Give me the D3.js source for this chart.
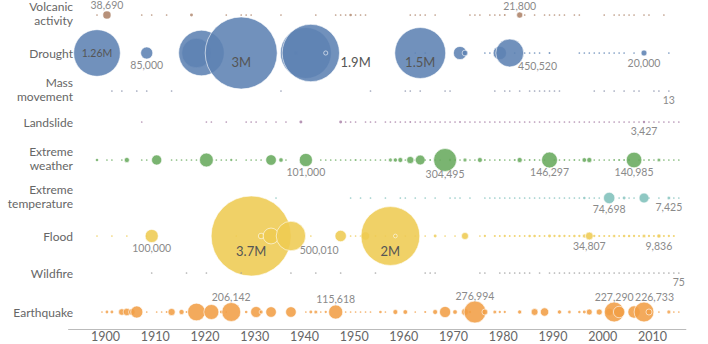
<!DOCTYPE html>
<html>
<head>
<meta charset="utf-8">
<script src="https://cdn.jsdelivr.net/npm/d3@7"></script>
<style>
  body { margin: 0; background: #fff; }
  svg { display: block; font-family: Lato, "Open Sans", sans-serif; }
</style>
</head>
<body>
<svg id="chart"></svg>
<script>
// deaths per year by disaster type, [year, deaths]
const categories = ["Volcanic activity", "Drought", "Mass movement", "Landslide", "Extreme weather",
  "Extreme temperature", "Flood", "Wildfire", "Earthquake"];
const rowLabels = [["Volcanic", "activity"], ["Drought"], ["Mass", "movement"], ["Landslide"],
  ["Extreme", "weather"], ["Extreme", "temperature"], ["Flood"], ["Wildfire"], ["Earthquake"]];
const tickYears = [1900, 1910, 1920, 1930, 1940, 1950, 1960, 1970, 1980, 1990, 2000, 2010];

const volcanic = [[1900, 30], [1902, 38690], [1909, 100], [1911, 1335], [1914, 100], [1919, 5110],
  [1926, 200], [1929, 1500], [1930, 1400], [1931, 1400], [1937, 500], [1944, 100], [1948, 50],
  [1949, 200], [1950, 150], [1951, 4000], [1952, 100], [1953, 200], [1954, 100], [1963, 1600],
  [1964, 100], [1965, 300], [1966, 1000], [1968, 100], [1975, 50], [1976, 50], [1977, 100],
  [1979, 200], [1980, 100], [1981, 250], [1982, 2000], [1985, 21800], [1986, 1746], [1988, 50],
  [1990, 50], [1991, 900], [1992, 50], [1993, 100], [1994, 100], [1996, 50], [1997, 60], [2002, 200],
  [2004, 10], [2005, 10], [2006, 10], [2007, 10], [2008, 20], [2010, 320], [2011, 10], [2014, 60]];

const drought = [[1900, 1260000], [1910, 85000], [1920, 500000], [1921, 1200000], [1929, 3000000],
  [1940, 10000], [1942, 1500000], [1943, 1900000], [1946, 10000], [1964, 500], [1965, 1500000],
  [1966, 500], [1973, 100000], [1974, 19000], [1978, 100], [1979, 150], [1981, 103000],
  [1983, 450520], [1984, 300], [1986, 1000], [1987, 1300], [1988, 1000], [1989, 800], [1991, 2000],
  [1997, 100], [1998, 100], [1999, 150], [2000, 100], [2001, 200], [2002, 100], [2003, 150],
  [2004, 100], [2005, 100], [2006, 150], [2008, 50], [2010, 20000], [2015, 50]];

const massMovement = [[1903, 50], [1905, 30], [1908, 20], [1910, 50], [1915, 20], [1937, 20],
  [1955, 30], [1962, 20], [1963, 20], [1965, 30], [1970, 40], [1971, 30], [1980, 20], [1982, 20],
  [1983, 30], [1985, 20], [1987, 30], [1988, 20], [1989, 20], [1990, 20], [1991, 30], [1992, 20],
  [1993, 20], [2000, 20], [2002, 20], [2004, 20], [2006, 20], [2008, 20], [2009, 20], [2012, 20],
  [2013, 20], [2015, 13]];

const landslide = [[1909, 100], [1922, 150], [1923, 100], [1926, 100], [1930, 100], [1931, 100],
  [1932, 100], [1934, 100], [1936, 100], [1938, 100], [1941, 5000], [1949, 5000], [1950, 100],
  [1951, 100], [1952, 100], [1954, 100], [1955, 100], [1956, 100], [1958, 200], [1959, 150],
  [1960, 300], [1961, 200], [1962, 400], [1963, 2000], [1964, 300], [1965, 200], [1966, 500],
  [1967, 300], [1968, 200], [1969, 400], [1970, 300], [1971, 500], [1972, 300], [1973, 2000],
  [1974, 400], [1975, 300], [1976, 200], [1977, 300], [1978, 400], [1979, 500], [1980, 300],
  [1981, 600], [1982, 400], [1983, 500], [1984, 300], [1985, 400], [1986, 300], [1987, 800],
  [1988, 400], [1989, 500], [1990, 300], [1991, 400], [1992, 300], [1993, 500], [1994, 400],
  [1995, 600], [1996, 300], [1997, 400], [1998, 700], [1999, 500], [2000, 400], [2001, 600],
  [2002, 300], [2003, 400], [2004, 300], [2005, 600], [2006, 1500], [2007, 300], [2008, 400],
  [2009, 500], [2010, 3427], [2011, 300], [2012, 400], [2013, 500], [2014, 600], [2015, 400],
  [2016, 300], [2017, 500]];

const extremeWeather = [[1900, 4000], [1902, 800], [1903, 800], [1905, 800], [1906, 15000],
  [1909, 800], [1910, 800], [1912, 60000], [1915, 800], [1916, 600], [1917, 1000], [1918, 800],
  [1919, 1200], [1920, 800], [1922, 110000], [1924, 1000], [1925, 800], [1926, 1500], [1927, 3000],
  [1928, 1000], [1930, 800], [1931, 1500], [1932, 1000], [1933, 800], [1935, 65000], [1937, 11000],
  [1938, 800], [1942, 101000], [1945, 900], [1946, 700], [1947, 1200], [1948, 800], [1949, 900],
  [1950, 700], [1951, 800], [1952, 2500], [1953, 900], [1954, 800], [1955, 1000], [1956, 1200],
  [1957, 800], [1958, 1300], [1959, 9000], [1960, 10000], [1961, 14000], [1962, 1000],
  [1963, 30000], [1964, 1200], [1965, 55000], [1966, 1000], [1967, 2000], [1968, 1200], [1969, 900],
  [1970, 304495], [1971, 3000], [1972, 1500], [1973, 1000], [1974, 9000], [1975, 1500], [1976, 1000],
  [1977, 14000], [1978, 2000], [1979, 1500], [1980, 1500], [1981, 1800], [1982, 1600], [1983, 1500],
  [1984, 2500], [1985, 15000], [1986, 1500], [1987, 2000], [1988, 1800], [1989, 1500], [1990, 1200],
  [1991, 146297], [1992, 1000], [1993, 1200], [1994, 1800], [1995, 1600], [1996, 2000], [1997, 1500],
  [1998, 12000], [1999, 15000], [2000, 1500], [2001, 1200], [2002, 1000], [2003, 1200], [2004, 2000],
  [2005, 2500], [2006, 2000], [2007, 3000], [2008, 140985], [2009, 1200], [2010, 1300], [2011, 1800],
  [2012, 1500], [2013, 8000], [2014, 1000], [2015, 1200], [2016, 1400], [2017, 1300]];

const extremeTemperature = [[1936, 300], [1951, 100], [1953, 200], [1955, 100], [1958, 100],
  [1961, 100], [1962, 100], [1964, 200], [1966, 300], [1968, 200], [1971, 100], [1972, 300],
  [1973, 200], [1975, 200], [1978, 300], [1979, 500], [1980, 1300], [1981, 600], [1982, 400],
  [1983, 300], [1984, 500], [1985, 600], [1986, 400], [1987, 1500], [1988, 700], [1989, 500],
  [1990, 800], [1991, 600], [1992, 400], [1993, 500], [1994, 600], [1995, 1700], [1996, 500],
  [1997, 800], [1998, 3500], [1999, 900], [2000, 800], [2001, 600], [2003, 74698], [2005, 800],
  [2006, 5000], [2007, 1000], [2008, 1500], [2010, 56000], [2011, 500], [2013, 1500], [2015, 7425],
  [2016, 300], [2017, 400]];

const flood = [[1900, 500], [1903, 300], [1906, 500], [1910, 1000], [1911, 100000], [1928, 500],
  [1931, 3700000], [1933, 18000], [1935, 145000], [1939, 500010], [1943, 1000], [1949, 75000],
  [1951, 1500], [1952, 1000], [1953, 1500], [1954, 40000], [1956, 2000], [1958, 1000],
  [1959, 2000000], [1960, 8000], [1962, 1500], [1964, 1200], [1966, 1500], [1968, 5000],
  [1970, 1500], [1972, 1500], [1974, 28700], [1977, 1500], [1978, 3000], [1980, 2500], [1981, 2000],
  [1982, 3000], [1983, 2000], [1984, 2500], [1985, 2000], [1986, 1800], [1987, 3500], [1988, 4000],
  [1989, 2500], [1990, 2000], [1991, 5000], [1992, 3000], [1993, 3500], [1994, 3000], [1995, 2500],
  [1996, 3500], [1997, 3000], [1998, 9000], [1999, 34807], [2000, 3000], [2001, 2500], [2002, 2500],
  [2003, 2500], [2004, 6000], [2005, 2000], [2006, 4000], [2007, 3500], [2008, 3000], [2009, 2500],
  [2010, 8000], [2011, 3000], [2012, 2500], [2013, 9836], [2014, 2500], [2015, 3000], [2016, 2500]];

const wildfire = [[1911, 100], [1918, 1000], [1922, 100], [1929, 100], [1939, 100], [1944, 100],
  [1949, 100], [1956, 100], [1966, 100], [1967, 100], [1968, 100], [1977, 100], [1978, 100],
  [1981, 50], [1982, 80], [1983, 300], [1984, 50], [1985, 100], [1986, 60], [1987, 200], [1989, 50],
  [1991, 80], [1992, 50], [1993, 70], [1994, 90], [1995, 60], [1996, 50], [1997, 240], [1998, 100],
  [1999, 70], [2000, 80], [2001, 50], [2002, 60], [2003, 90], [2004, 40], [2005, 50], [2006, 60],
  [2007, 150], [2008, 80], [2009, 190], [2010, 70], [2011, 50], [2012, 60], [2013, 40], [2014, 50],
  [2015, 60], [2016, 50], [2017, 75]];

const earthquake = [[1901, 500], [1902, 4500], [1903, 5000], [1905, 25000], [1906, 32000],
  [1907, 25000], [1908, 85000], [1910, 1500], [1912, 1000], [1913, 1500], [1914, 2000],
  [1915, 30000], [1917, 15000], [1918, 2000], [1920, 180000], [1923, 130000], [1925, 5000],
  [1926, 1500], [1927, 206142], [1930, 4000], [1932, 70000], [1933, 9000], [1935, 65000],
  [1939, 65000], [1942, 1000], [1943, 5000], [1944, 8000], [1945, 1500], [1946, 3000],
  [1948, 115618], [1950, 1500], [1951, 1200], [1952, 1000], [1953, 1500], [1954, 1500], [1955, 1000],
  [1957, 4000], [1958, 1500], [1960, 14000], [1962, 12500], [1964, 1500], [1966, 2500],
  [1968, 14000], [1970, 72000], [1972, 12000], [1974, 28000], [1975, 4000], [1976, 276994],
  [1978, 20000], [1980, 8000], [1981, 3000], [1982, 3000], [1985, 9500], [1988, 27000],
  [1990, 40000], [1993, 10000], [1995, 7000], [1997, 3500], [1998, 5000], [1999, 20000],
  [2001, 21000], [2003, 33000], [2004, 227290], [2005, 76000], [2008, 88000], [2010, 226733],
  [2011, 21000], [2013, 1200], [2015, 9000], [2016, 1300], [2017, 1000]];

const series = [volcanic, drought, massMovement, landslide, extremeWeather, extremeTemperature,
  flood, wildfire, earthquake];

// value annotations: [category, year, text, placement]
const annotations = [
  ["Volcanic activity", 1902, "38,690", "above"],
  ["Volcanic activity", 1985, "21,800", "above"],
  ["Drought", 1900, "1.26M", "center"],
  ["Drought", 1910, "85,000", "below"],
  ["Drought", 1929, "3M", "inside"],
  ["Drought", 1943, "1.9M", "right"],
  ["Drought", 1965, "1.5M", "inside"],
  ["Drought", 1983, "450,520", "belowRight"],
  ["Drought", 2010, "20,000", "below"],
  ["Mass movement", 2015, "13", "below"],
  ["Landslide", 2010, "3,427", "below"],
  ["Extreme weather", 1942, "101,000", "below"],
  ["Extreme weather", 1970, "304,495", "below"],
  ["Extreme weather", 1991, "146,297", "below"],
  ["Extreme weather", 2008, "140,985", "below"],
  ["Extreme temperature", 2003, "74,698", "below"],
  ["Extreme temperature", 2015, "7,425", "below"],
  ["Flood", 1911, "100,000", "below"],
  ["Flood", 1931, "3.7M", "insideLow"],
  ["Flood", 1939, "500,010", "belowRight"],
  ["Flood", 1959, "2M", "insideLow"],
  ["Flood", 1999, "34,807", "below"],
  ["Flood", 2013, "9,836", "below"],
  ["Wildfire", 2017, "75", "below"],
  ["Earthquake", 1927, "206,142", "above"],
  ["Earthquake", 1948, "115,618", "above"],
  ["Earthquake", 1976, "276,994", "above"],
  ["Earthquake", 2004, "227,290", "above"],
  ["Earthquake", 2010, "226,733", "aboveRight"]
];

const colors = ["#ad8268", "#5d82b3", "#8790aa", "#a57ca4", "#68aa5d", "#7fc0bb", "#eecb52",
  "#9d9d9d", "#f19e45"];

const width = 708, height = 344;

const x = d3.scaleLinear().domain([1900, 2010]).range([97, 644]);
const y = d3.scaleOrdinal().domain(categories).range([15, 53, 91, 122, 160, 198, 236, 273, 312]);
const r = d3.scaleSqrt().domain([0, 3700000]).range([0, 40]);
const radius = v => Math.max(0.85, r(v));

const svg = d3.select("#chart").attr("width", width).attr("height", height);

// bubbles
categories.forEach((cat, i) => {
  svg.append("g")
    .selectAll("circle")
    .data(series[i])
    .join("circle")
    .attr("cx", d => x(d[0]))
    .attr("cy", y(cat))
    .attr("r", d => radius(d[1]))
    .attr("fill", colors[i])
    .attr("fill-opacity", d => radius(d[1]) > 2 ? 0.88 : 0.8)
    .attr("stroke", "#fff")
    .attr("stroke-opacity", 0.6)
    .attr("stroke-width", d => radius(d[1]) > 1.6 ? 1 : 0);
});

// row labels
const rows = svg.append("g")
  .selectAll("text")
  .data(categories)
  .join("text")
  .attr("x", 73)
  .attr("y", d => y(d))
  .attr("text-anchor", "end")
  .attr("fill", "#666")
  .style("font-size", "12px");

rows.each(function (d, i) {
  const lines = rowLabels[i];
  d3.select(this).selectAll("tspan")
    .data(lines)
    .join("tspan")
    .attr("x", 73)
    .attr("dy", (l, j) => lines.length === 1 ? 4.5 : (j === 0 ? -4 : 13.5))
    .text(l => l);
});

// annotations
const lookup = (cat, year) => series[categories.indexOf(cat)].find(d => d[0] === year);

annotations.forEach(([cat, year, text, place]) => {
  const d = lookup(cat, year);
  const cx = x(year), cy = y(cat), rr = radius(d[1]);
  const big = ["inside", "insideLow", "right"].includes(place);
  let tx = cx, ty = cy, anchor = "middle";
  if (place === "above") ty = cy - rr - 1.5;
  else if (place === "aboveRight") { ty = cy - rr - 1.5; tx = cx - rr + 1; anchor = "start"; }
  else if (place === "below") ty = cy + rr * 0.5 + 12.5;
  else if (place === "belowRight") { ty = cy + rr + 3; tx = cx + rr * 0.6; anchor = "start"; }
  else if (place === "center") ty = cy + 4;
  else if (place === "inside") ty = cy + 14;
  else if (place === "insideLow") ty = cy + 20;
  else if (place === "right") { ty = cy + 14; tx = cx + rr + 1; anchor = "start"; }
  svg.append("text")
    .attr("x", tx)
    .attr("y", ty)
    .attr("text-anchor", anchor)
    .attr("fill", big || place === "center" ? "#555" : "#8a8a8a")
    .style("font-size", big ? "13px" : "10.5px")
    .text(text);
});

// x axis
const axisSpan = [1894.2, 2018.5];
svg.append("line")
  .attr("x1", x(axisSpan[0]))
  .attr("x2", x(axisSpan[1]))
  .attr("y1", 329.5)
  .attr("y2", 329.5)
  .attr("stroke", "#bbb");

const xAxis = svg.append("g")
  .attr("transform", "translate(8,329)")
  .call(d3.axisBottom(x).tickValues(tickYears).tickFormat(d3.format("d")).tickSize(0).tickPadding(3));

xAxis.select(".domain").remove();
xAxis.attr("font-family", null).attr("font-size", null);
xAxis.selectAll("text").attr("fill", "#666").style("font-size", "12.5px");
</script>
</body>
</html>
